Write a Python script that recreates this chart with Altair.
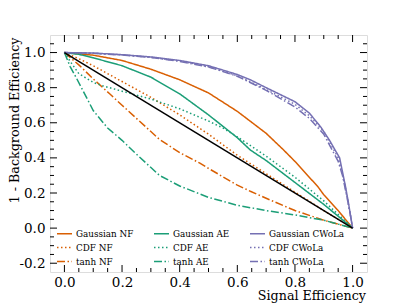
import altair as alt
import pandas as pd

# ---------------- data ----------------
gauss_nf_x = [0, 0.1, 0.2, 0.3, 0.4, 0.5, 0.6, 0.7, 0.76, 0.8, 0.88, 0.9, 0.95, 1.0]
gauss_nf_y = [1, 0.985, 0.955, 0.905, 0.845, 0.77, 0.665, 0.54, 0.446, 0.38, 0.235, 0.19, 0.1, 0.0]

cdf_nf_x = [0, 0.05, 0.1, 0.2, 0.3, 0.4, 0.5, 0.6, 0.7, 0.8, 0.9, 1.0]
cdf_nf_y = [1, 0.965, 0.925, 0.835, 0.745, 0.645, 0.535, 0.415, 0.31, 0.205, 0.1, 0.0]

tanh_nf_x = [0, 0.05, 0.1, 0.157, 0.2, 0.25, 0.3, 0.33, 0.4, 0.47, 0.5, 0.6, 0.645, 0.7, 0.8, 0.9, 1.0]
tanh_nf_y = [1, 0.93, 0.85, 0.765, 0.70, 0.625, 0.55, 0.505, 0.43, 0.37, 0.34, 0.245, 0.21, 0.17, 0.10, 0.045, 0.0]

gauss_ae_x = [0, 0.05, 0.1, 0.2, 0.3, 0.4, 0.5, 0.55, 0.6, 0.645, 0.7, 0.8, 0.9, 1.0]
gauss_ae_y = [1, 0.99, 0.97, 0.925, 0.86, 0.765, 0.645, 0.58, 0.515, 0.445, 0.385, 0.26, 0.135, 0.0]

cdf_ae_x = [0, 0.02, 0.05, 0.1, 0.134, 0.2, 0.3, 0.4, 0.5, 0.55, 0.6, 0.7, 0.8, 0.9, 1.0]
cdf_ae_y = [1, 0.95, 0.88, 0.83, 0.81, 0.78, 0.735, 0.68, 0.61, 0.57, 0.52, 0.41, 0.29, 0.155, 0.0]

tanh_ae_x = [0, 0.02, 0.041, 0.1, 0.15, 0.2, 0.244, 0.33, 0.4, 0.5, 0.6, 0.7, 0.8, 0.9, 1.0]
tanh_ae_y = [1, 0.92, 0.857, 0.67, 0.57, 0.50, 0.43, 0.30, 0.24, 0.175, 0.13, 0.10, 0.075, 0.045, 0.0]

gauss_cw_x = [0, 0.1, 0.2, 0.3, 0.4, 0.5, 0.6, 0.645, 0.7, 0.8, 0.85, 0.89, 0.92, 0.955, 0.965, 0.975, 0.985, 0.995, 1.0]
gauss_cw_y = [1, 0.997, 0.988, 0.975, 0.955, 0.925, 0.875, 0.845, 0.80, 0.72, 0.655, 0.575, 0.50, 0.40, 0.32, 0.24, 0.15, 0.05, 0.0]

cdf_cw_x = [0, 0.1, 0.2, 0.3, 0.4, 0.5, 0.6, 0.7, 0.8, 0.85, 0.9, 0.95, 0.965, 0.975, 0.985, 0.995, 1.0]
cdf_cw_y = [1, 0.996, 0.987, 0.973, 0.952, 0.92, 0.868, 0.79, 0.705, 0.64, 0.55, 0.40, 0.31, 0.23, 0.14, 0.05, 0.0]

tanh_cw_x = [0, 0.1, 0.2, 0.3, 0.4, 0.5, 0.6, 0.7, 0.8, 0.85, 0.9, 0.95, 0.965, 0.975, 0.985, 0.995, 1.0]
tanh_cw_y = [1, 0.996, 0.986, 0.972, 0.95, 0.918, 0.865, 0.785, 0.69, 0.625, 0.535, 0.38, 0.30, 0.22, 0.14, 0.05, 0.0]

diag_x = [0, 1]
diag_y = [1, 0]

# legend order (vertical legend fills columns first)
legend_order = ["Gaussian NF", "CDF NF", "tanh NF",
                "Gaussian AE", "CDF AE", "tanh AE",
                "Gaussian CWoLa", "CDF CWoLa", "tanh CWoLa"]

x_major = [0.0, 0.2, 0.4, 0.6, 0.8, 1.0]
x_minor = [0.05, 0.1, 0.15, 0.25, 0.3, 0.35, 0.45, 0.5, 0.55, 0.65, 0.7, 0.75, 0.85, 0.9, 0.95]
y_major = [-0.2, 0.0, 0.2, 0.4, 0.6, 0.8, 1.0]
y_minor = [-0.15, -0.1, -0.05, 0.05, 0.1, 0.15, 0.25, 0.3, 0.35, 0.45, 0.5, 0.55,
           0.65, 0.7, 0.75, 0.85, 0.9, 0.95, 1.05]

ORANGE = "#d95f02"
GREEN = "#1b9e77"
PURPLE = "#7570b3"

# ---------------- build tables ----------------
series = {
    "Gaussian NF": (gauss_nf_x, gauss_nf_y),
    "CDF NF": (cdf_nf_x, cdf_nf_y),
    "tanh NF": (tanh_nf_x, tanh_nf_y),
    "Gaussian AE": (gauss_ae_x, gauss_ae_y),
    "CDF AE": (cdf_ae_x, cdf_ae_y),
    "tanh AE": (tanh_ae_x, tanh_ae_y),
    "Gaussian CWoLa": (gauss_cw_x, gauss_cw_y),
    "CDF CWoLa": (cdf_cw_x, cdf_cw_y),
    "tanh CWoLa": (tanh_cw_x, tanh_cw_y),
}
rows = []
for name, (xs, ys) in series.items():
    for i, (a, b) in enumerate(zip(xs, ys)):
        rows.append({"series": name, "sig": a, "bkg": b, "i": i})
df = pd.DataFrame(rows)

diag = pd.DataFrame({"sig": diag_x, "bkg": diag_y})

W, H = 317, 237
FONT = "DejaVu Serif"

xscale = alt.Scale(domain=[-0.05, 1.05], nice=False, zero=False)
yscale = alt.Scale(domain=[-0.25, 1.1], nice=False, zero=False)

color_range = [ORANGE] * 3 + [GREEN] * 3 + [PURPLE] * 3
dash_range = [[1, 0], [1.5, 2.5], [8, 2.5, 1.5, 2.5]] * 3

xaxis = alt.Axis(values=x_major, format=".1f", title="Signal Efficiency",
                 ticks=False, domain=False, grid=False, labelPadding=3,
                 labelOverlap=False,
                 labelFont=FONT, labelFontSize=13.5, labelColor="black",
                 titleFont=FONT, titleFontSize=12.7, titleFontWeight="normal",
                 titleColor="black", titleX=W - 1.5, titleY=27.5,
                 titleAlign="right", titleBaseline="alphabetic")
yaxis = alt.Axis(values=y_major, format=".1f", title="1 - Background Efficiency",
                 ticks=False, domain=False, grid=False, labelPadding=5,
                 labelOverlap=False,
                 labelExpr="replace(datum.label, '\u2212', '-')",
                 labelFont=FONT, labelFontSize=13.5, labelColor="black",
                 titleFont=FONT, titleFontSize=12.7, titleFontWeight="normal",
                 titleColor="black", titleX=-36, titleY=2, titleAngle=-90,
                 titleAlign="right", titleBaseline="middle")

curves = alt.Chart(df).mark_line(strokeWidth=1.5, clip=True).encode(
    x=alt.X("sig:Q", scale=xscale, axis=xaxis),
    y=alt.Y("bkg:Q", scale=yscale, axis=yaxis),
    color=alt.Color("series:N", scale=alt.Scale(domain=legend_order, range=color_range),
                    legend=alt.Legend(title=None, orient="none", legendX=6, legendY=190,
                                      columns=3, symbolType="stroke", symbolSize=225,
                                      symbolStrokeWidth=1.5, labelFont=FONT,
                                      labelFontSize=8.8, labelColor="black",
                                      columnPadding=17, rowPadding=-3, labelOffset=3,
                                      padding=0)),
    strokeDash=alt.StrokeDash("series:N", scale=alt.Scale(domain=legend_order, range=dash_range)),
    order="i:Q",
)

diagonal = alt.Chart(diag).mark_line(color="black", strokeWidth=1.5).encode(
    x=alt.X("sig:Q", scale=xscale, axis=xaxis),
    y=alt.Y("bkg:Q", scale=yscale, axis=yaxis),
)

MAJ, MIN = 7, 4


def xticks(vals, length):
    d = pd.DataFrame({"sig": vals})
    base = alt.Chart(d).mark_rule(color="black", strokeWidth=1)
    b = base.encode(x=alt.X("sig:Q", scale=xscale, axis=xaxis), y=alt.value(H), y2=alt.value(H - length))
    t = base.encode(x=alt.X("sig:Q", scale=xscale, axis=xaxis), y=alt.value(0), y2=alt.value(length))
    return [b, t]


def yticks(vals, length):
    d = pd.DataFrame({"bkg": vals})
    base = alt.Chart(d).mark_rule(color="black", strokeWidth=1)
    l = base.encode(y=alt.Y("bkg:Q", scale=yscale, axis=yaxis), x=alt.value(0), x2=alt.value(length))
    r = base.encode(y=alt.Y("bkg:Q", scale=yscale, axis=yaxis), x=alt.value(W), x2=alt.value(W - length))
    return [l, r]


tick_layers = xticks(x_major, MAJ) + xticks(x_minor, MIN) + yticks(y_major, MAJ) + yticks(y_minor, MIN)

chart = alt.layer(curves, diagonal, *tick_layers).properties(
    width=W, height=H,
    padding={"left": 42, "top": 27, "right": 32, "bottom": 33},
    autosize=alt.AutoSizeParams(type="none"),
).configure_view(stroke="black", strokeWidth=1.2).configure_axis(
    labelOverlap=False
).configure(background="white")

chart.save("out.html", embed_options={"renderer": "svg", "actions": False})
